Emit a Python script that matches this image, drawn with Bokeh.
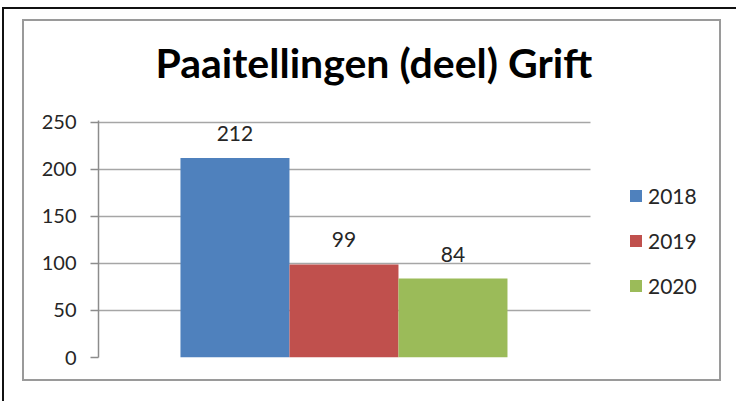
from bokeh.plotting import figure
from bokeh.models import (Range1d, ColumnDataSource, LabelSet, Legend, LegendItem,
                          FixedTicker, Title)
from bokeh.core.properties import value
from bokeh.embed import file_html
from bokeh.resources import INLINE

# ---- data ----
years = [2018, 2019, 2020]
year_labels = ["2018", "2019", "2020"]
counts = [212, 99, 84]
colors = ["#4F81BD", "#C0504D", "#9BBB59"]
title_text = "Paaitellingen (deel) Grift"
y_ticks = [0, 50, 100, 150, 200, 250]

src = ColumnDataSource(dict(year=years, count=counts, color=colors,
                            label=[str(c) for c in counts]))

W, H = 736, 401
x0 = 2016.748
p = figure(width=W, height=H, output_backend="svg", toolbar_location=None,
           x_range=Range1d(x0, x0 + 5.853),
           y_range=Range1d(0, 252),
           min_border_left=98, min_border_right=0, min_border_top=120, min_border_bottom=44)
p.outline_line_color = None
p.background_fill_color = "white"
p.border_fill_color = "white"

p.title = Title(text=title_text, align="left", offset=57, standoff=67,
                text_font="Lato", text_font_style="bold", text_font_size="41px",
                text_color="black")

r = p.vbar(x="year", top="count", width=1.0, color="color", source=src, line_color=None)

p.xaxis.visible = False
p.xgrid.visible = False
p.yaxis.ticker = FixedTicker(ticks=y_ticks)
p.yaxis.axis_line_color = "#8c8c8c"
p.yaxis.axis_line_width = 1.5
p.yaxis.major_tick_line_color = "#8c8c8c"
p.yaxis.major_tick_line_width = 1.5
p.yaxis.major_tick_out = 8
p.yaxis.major_tick_in = 0
p.yaxis.minor_tick_line_color = None
p.yaxis.major_label_text_font = "Lato"
p.yaxis.major_label_text_font_size = "20px"
p.yaxis.major_label_text_color = "#262626"
p.yaxis.major_label_standoff = 14
p.ygrid.grid_line_color = "#a6a6a6"
p.ygrid.grid_line_width = 1.5
p.ygrid.cross_bounds = (x0, x0 + 4.514)

labels = LabelSet(x="year", y="count", text="label", source=src, text_align="center",
                  text_baseline="alphabetic", y_offset=17, text_font=value("Lato"),
                  text_font_size=value("21px"), text_color=value("#262626"))
p.add_layout(labels)

items = [LegendItem(label=year_labels[i], renderers=[r], index=i) for i in range(3)]
legend = Legend(items=items, location=(530, 59.5), glyph_width=15, glyph_height=15,
                label_height=20, spacing=20, padding=0, margin=0, border_line_color=None,
                background_fill_alpha=0, label_text_font="Lato", label_text_font_size="21px",
                label_text_color="#262626", label_standoff=5)
p.add_layout(legend)

p.stylesheets = [
    ":host { position: relative; }",
    ":host::before { content: ''; position: absolute; left: 2px; top: 7px; right: -10px; bottom: -10px;"
    " border-top: 2px solid #111; border-left: 2px solid #111; z-index: 20; pointer-events: none; }",
    ":host::after { content: ''; position: absolute; left: 22px; top: 19px; width: 699px; height: 362px;"
    " border: 2px solid #9a9a9a; box-sizing: border-box; z-index: 20; pointer-events: none; }",
]

open("out.html", "w").write(file_html(p, INLINE))
